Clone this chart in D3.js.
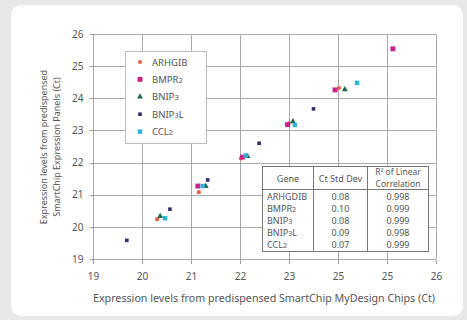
<!DOCTYPE html>
<meta charset="utf-8">
<style>
body { margin: 0; background: #e7e8e9; }
text { font-family: "Noto Sans", "Open Sans", sans-serif; fill: #555; }
.grid line { stroke: #a9a9a9; stroke-width: 1px; shape-rendering: crispEdges; }
.axis path, .axis line { stroke: #999; shape-rendering: crispEdges; }
.axis text { font-size: 10px; fill: #555; }
</style>
<body>
<script src="https://d3js.org/d3.v7.min.js"></script>
<script>

// genes and their points [x (MyDesign), y (Expression Panels)]
var genes = ["ARHGIB", "BMPR2", "BNIP3", "BNIP3L", "CCL2"];
var arhgib = [[20.31, 20.24], [21.16, 21.08], [22.02, 22.13], [23.0, 23.22], [24.02, 24.32]];
var bmpr2 = [[21.14, 21.27], [22.05, 22.17], [22.97, 23.18], [23.94, 24.26], [25.12, 25.54]];
var bnip3 = [[20.37, 20.33], [21.3, 21.26], [22.15, 22.2], [23.08, 23.28], [24.14, 24.27]];
var bnip3l = [[19.69, 19.58], [20.57, 20.55], [21.34, 21.46], [22.39, 22.6], [23.5, 23.67]];
var ccl2 = [[20.47, 20.27], [21.24, 21.27], [22.12, 22.22], [23.12, 23.17], [24.39, 24.48]];
var series = [arhgib, bmpr2, bnip3, bnip3l, ccl2];

var xTicks = [19, 20, 21, 22, 23, 24, 25, 26];
var xTickLabels = ["19", "20", "21", "22", "23", "25", "25", "26"];
var yTicks = [19, 20, 21, 22, 23, 24, 25, 26];

// table
var tableGenes = ["ARHGDIB", "BMPR2", "BNIP3", "BNIP3L", "CCL2"];
var ctStdDev = ["0.08", "0.10", "0.08", "0.09", "0.07"];
var rSquared = ["0.998", "0.999", "0.999", "0.998", "0.999"];

var colors = ["#ee5f45", "#c8228a", "#1d6b57", "#2f2d70", "#2db3d6"];
var shapes = [d3.symbolCircle, d3.symbolSquare, d3.symbolTriangle, d3.symbolSquare, d3.symbolSquare];
var sizes = [14, 24, 16, 13, 20];

var W = 467, H = 320;
var svg = d3.select("body").append("svg").attr("width", W).attr("height", H);

// card
svg.append("rect").attr("x", 11).attr("y", 5).attr("width", 452).attr("height", 311)
    .attr("rx", 10).attr("fill", "#fff");

var x = d3.scaleLinear().domain([19, 26]).range([93, 436]);
var y = d3.scaleLinear().domain([19, 26]).range([259, 34]);

// grid
var grid = svg.append("g").attr("class", "grid");
grid.selectAll(".v").data(xTicks).enter().append("line")
    .attr("x1", d => Math.round(x(d)) + 0.5).attr("x2", d => Math.round(x(d)) + 0.5)
    .attr("y1", y(26)).attr("y2", y(19));
grid.selectAll(".h").data(yTicks).enter().append("line")
    .attr("y1", d => Math.round(y(d)) + 0.5).attr("y2", d => Math.round(y(d)) + 0.5)
    .attr("x1", x(19)).attr("x2", x(26));

// axes
svg.append("g").attr("class", "axis")
    .attr("transform", "translate(0," + (Math.round(y(19)) + 0.5) + ")")
    .call(d3.axisBottom(x).tickValues(xTicks).tickSize(4).tickPadding(9)
        .tickFormat((d, i) => xTickLabels[i]))
    .call(g => g.select(".domain").remove());
svg.append("g").attr("class", "axis")
    .attr("transform", "translate(" + (Math.round(x(19)) + 0.5) + ",0)")
    .call(d3.axisLeft(y).tickValues(yTicks).tickSize(4).tickPadding(6).tickFormat(d3.format("d")))
    .call(g => g.select(".domain").remove());

// axis titles
svg.append("text").attr("x", 264).attr("y", 302).attr("text-anchor", "middle")
    .style("font-size", "10.7px").text("Expression levels from predispensed SmartChip MyDesign Chips (Ct)");
var yt = svg.append("g").attr("transform", "translate(47,147) rotate(-90)");
yt.append("text").attr("text-anchor", "middle").attr("y", 0)
    .style("font-size", "9px").text("Expression levels from predispensed");
yt.append("text").attr("text-anchor", "middle").attr("y", 13)
    .style("font-size", "9px").text("SmartChip Expression Panels (Ct)");

// helper: digits drawn smaller
function geneLabel(sel, name) {
    name.split(/(\d)/).filter(s => s.length).forEach(function (part) {
        var t = sel.append("tspan").text(part);
        if (/\d/.test(part)) t.style("font-size", "80%");
    });
}

// points
series.forEach(function (pts, i) {
    svg.append("g").selectAll("path").data(pts).enter().append("path")
        .attr("transform", d => "translate(" + x(d[0]) + "," + y(d[1]) + ")")
        .attr("d", d3.symbol().type(shapes[i]).size(sizes[i]))
        .attr("fill", colors[i]);
});

// legend
var leg = svg.append("g");
leg.append("rect").attr("x", 125.5).attr("y", 51.5).attr("width", 81).attr("height", 92)
    .attr("fill", "#fff").attr("stroke", "#bbb");
genes.forEach(function (g, i) {
    var ly = 62 + i * 17.4;
    leg.append("path").attr("transform", "translate(140," + ly + ")")
        .attr("d", d3.symbol().type(shapes[i]).size(sizes[i]))
        .attr("fill", colors[i]);
    var t = leg.append("text").attr("x", 152).attr("y", ly + 3.5).style("font-size", "9.5px");
    geneLabel(t, g);
});

// table
var tb = svg.append("g");
var tx0 = 262.5, tx1 = 313.5, tx2 = 367.5, tx3 = 428.5, ty0 = 166.5, ty1 = 189.5, ty2 = 251.5;
tb.append("rect").attr("x", tx0).attr("y", ty0).attr("width", tx3 - tx0).attr("height", ty2 - ty0)
    .attr("fill", "#fff").attr("stroke", "#777");
tb.append("line").attr("x1", tx0).attr("x2", tx3).attr("y1", ty1).attr("y2", ty1).attr("stroke", "#777");
[tx1, tx2].forEach(function (cx) {
    tb.append("line").attr("x1", cx).attr("x2", cx).attr("y1", ty0).attr("y2", ty2).attr("stroke", "#777");
});
tb.append("text").attr("x", (tx0 + tx1) / 2).attr("y", 182).attr("text-anchor", "middle")
    .style("font-size", "9px").text("Gene");
tb.append("text").attr("x", (tx1 + tx2) / 2).attr("y", 182).attr("text-anchor", "middle")
    .style("font-size", "9px").text("Ct Std Dev");
tb.append("text").attr("x", (tx2 + tx3) / 2).attr("y", 175).attr("text-anchor", "middle")
    .style("font-size", "8.5px").text("R\u00b2 of Linear");
tb.append("text").attr("x", (tx2 + tx3) / 2).attr("y", 187).attr("text-anchor", "middle")
    .style("font-size", "8.5px").text("Correlation");
tableGenes.forEach(function (g, i) {
    var ry = 200 + i * 11.9;
    var t = tb.append("text").attr("x", 267).attr("y", ry).style("font-size", "9px");
    geneLabel(t, g);
    tb.append("text").attr("x", (tx1 + tx2) / 2).attr("y", ry).attr("text-anchor", "middle")
        .style("font-size", "9px").text(ctStdDev[i]);
    tb.append("text").attr("x", (tx2 + tx3) / 2).attr("y", ry).attr("text-anchor", "middle")
        .style("font-size", "9px").text(rSquared[i]);
});

</script>
</body>
